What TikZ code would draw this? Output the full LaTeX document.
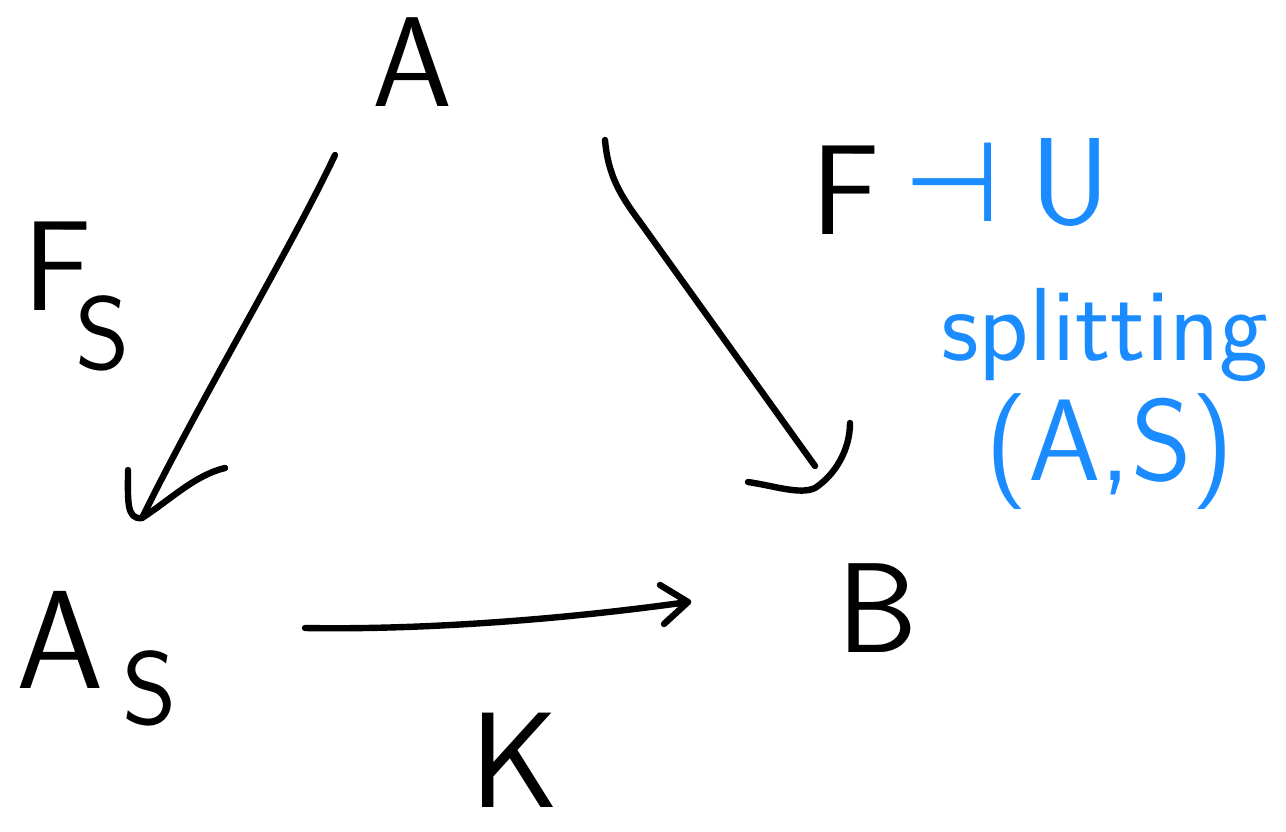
\documentclass[tikz,border=0pt]{standalone}
\usepackage{fontspec}
\newfontfamily\symfont{DejaVu Sans}
\definecolor{inkblue}{HTML}{1A8CFF}
\begin{document}
\begin{tikzpicture}[x=0.5pt,y=-0.5pt,
  ink/.style={line width=3.2pt,line cap=round,line join=round},
  lbl/.style={inner sep=0pt,font=\sffamily\fontsize{64}{64}\selectfont},
  sub/.style={inner sep=0pt,font=\sffamily\fontsize{52}{52}\selectfont},
  note/.style={inner sep=0pt,text=inkblue,font=\sffamily\fontsize{52}{52}\selectfont}]
\useasboundingbox[fill=white] (0,0) rectangle (1286,831);
% objects
\node[lbl] (A) at (412,62) {A};
\node[lbl,font=\sffamily\fontsize{70}{70}\selectfont] (As) at (60,640) {A};
\node[sub] (AsS) at (150,688) {S};
\node[lbl] (B) at (878,608) {B};
% labels
\node[lbl] (Fs) at (58,266) {F};
\node[sub] (FsS) at (103,333) {S};
\node[lbl] (F) at (846,190) {F};
\node[lbl,font=\sffamily\fontsize{68}{68}\selectfont] (K) at (515,760) {K};
% blue note
\node[note,font=\symfont\fontsize{56}{56}\selectfont] (adj) at (952,182) {⊣};
\node[note,font=\sffamily\fontsize{62}{62}\selectfont] (U) at (1070,182) {U};
\node[note] (split) at (1105,335) {splitting};
\node[note,font=\sffamily\fontsize{58}{58}\selectfont] (AS) at (1110,452) {(A,S)};
% connector coordinates
\coordinate (a1) at (335,155);
\coordinate (a2) at (142,518);
\coordinate (b1) at (605,140);
\coordinate (b2) at (815,466);
\coordinate (c1) at (305,628);
\coordinate (c2) at (688,602);
% A -> A_S
\draw[ink] (a1) .. controls (290,250) and (200,400) .. (a2);
\draw[ink] (128,470) .. controls (128,500) and (126,520) .. (a2)
  .. controls (170,500) and (195,475) .. (225,468);
% A -> B
\draw[ink] (b1) .. controls (608,175) and (620,195) .. (640,222) -- (b2);
\draw[ink] (748,482) .. controls (775,486) and (800,495) .. (815,488)
  .. controls (835,475) and (850,450) .. (850,423);
% A_S -> B
\draw[ink] (c1) .. controls (420,630) and (560,620) .. (c2);
\draw[ink] (660,585) -- (c2) -- (664,624);
\end{tikzpicture}
\end{document}
